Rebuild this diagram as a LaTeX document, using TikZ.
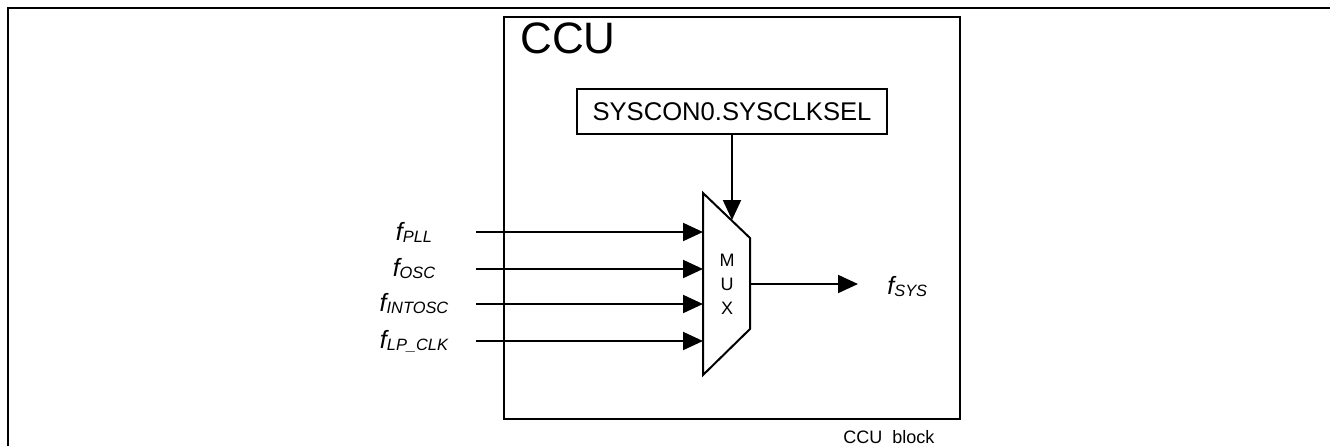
\documentclass[tikz,border=0pt]{standalone}
\usepackage{fontspec}
\setmainfont{Liberation Sans}
\usetikzlibrary{arrows.meta}
\usetikzlibrary{positioning}
\tikzset{sig/.style = {line width = 1pt, -{Triangle[length = 10pt, width = 9pt]}}}
\tikzset{flabel/.style = {inner sep = 0, minimum width = 62pt, align = center}}
\tikzset{frame/.style = {line width = 1pt}}
\newcommand{\fsig}[1]{{\fontsize{12.5}{14}\selectfont\itshape f\raisebox{-1pt}{\fontsize{8.2}{9}\selectfont #1}}}

\begin{document}
\begin{tikzpicture}[x = 0.5pt, y = -0.5pt]
    \useasboundingbox (0, 0) rectangle (1330, 446);
    \draw [frame] (1330, 8) -- (8, 8) -- (8, 446);
    \draw [frame] (504, 17) rectangle (960, 419);
    \node [anchor = north west, inner sep = 0, font = \fontsize{22}{24}\selectfont] (ccu) at (520, 22) {CCU};
    \node [draw, frame, minimum width = 155pt, minimum height = 22.5pt, inner sep = 0,
      font = \fontsize{12.8}{14}\selectfont] (sel) at (732, 111.5) {SYSCON0.SYSCLKSEL};
    % mux
    \coordinate (muxtl) at (703, 193);
    \coordinate (muxtr) at (750, 238);
    \coordinate (muxbr) at (750, 329);
    \coordinate (muxbl) at (703, 375);
    \draw [frame, line join = miter] (muxtl) -- (muxtr) -- (muxbr) -- (muxbl) -- cycle;
    \node [font = \fontsize{9}{12}\selectfont, align = center] (muxtxt) at (727, 284) {M\\U\\X};
    \coordinate (muxsel) at (732, 220);
    \coordinate (muxout) at (750, 284);
    \draw [sig] (sel.south) -- (muxsel);
    % inputs
    \node [flabel] (pll) at (414, 232) {\fsig{PLL}};
    \node [flabel] (osc) at (414, 269) {\fsig{OSC}};
    \node [flabel] (intosc) at (414, 304) {\fsig{INTOSC}};
    \node [flabel] (lpclk) at (414, 341) {\fsig{LP\_CLK}};
    \coordinate (inpll) at (703, 232);
    \coordinate (inosc) at (703, 269);
    \coordinate (inintosc) at (703, 304);
    \coordinate (inlpclk) at (703, 341);
    \draw [sig] (pll.east) -- (inpll);
    \draw [sig] (osc.east) -- (inosc);
    \draw [sig] (intosc.east) -- (inintosc);
    \draw [sig] (lpclk.east) -- (inlpclk);
    % output
    \node [anchor = west, inner sep = 0] (sys) at (887, 287) {\fsig{SYS}};
    \coordinate (sysin) at (858, 284);
    \draw [sig] (muxout) -- (sysin);
    \node [font = \fontsize{9}{10}\selectfont] (blk) at (889, 437) {CCU\ \ block};
\end{tikzpicture}
\end{document}
